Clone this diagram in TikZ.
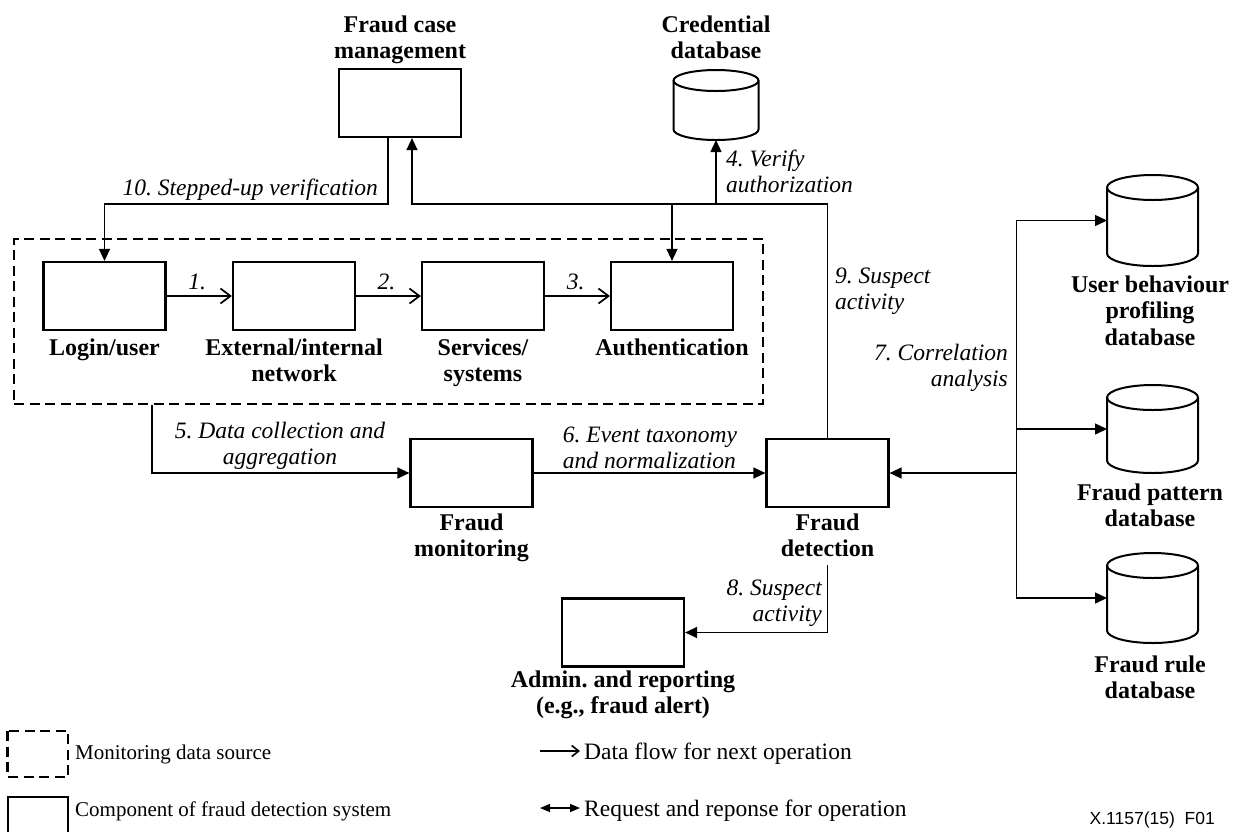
\documentclass[tikz,border=0pt]{standalone}
\usepackage{fontspec}
\setmainfont{Liberation Serif}
\newfontfamily\tagfont{Liberation Sans}
\usetikzlibrary{arrows.meta,calc}
\frenchspacing

% stacked lines whose baseline is that of the first line
\newcommand{\rows}[2]{\begin{tabular}[t]{@{}#1@{}}#2\end{tabular}}

% database cylinder: name, centre x, centre y, width, height, cap half-height
\newcommand{\dbcyl}[6]{%
  \node[minimum width=#4pt, minimum height=#5pt, inner sep=0pt, outer sep=0pt] (#1) at (#2,#3) {};
  \draw[dbline] ($(#1.north west)+(0,#6)$) -- ($(#1.south west)+(0,-#6)$)
     arc[start angle=180, end angle=0, x radius=#4/2, y radius=#6]
     -- ($(#1.north east)+(0,#6)$);
  \draw[dbline] ($(#1.north)+(0,#6)$) ellipse[x radius=#4/2, y radius=#6];
}

\begin{document}
\begin{tikzpicture}[x=1pt, y=-1pt,
  comp/.style={draw, line width=2.2pt, minimum width=122pt, minimum height=68pt, inner sep=0pt},
  srcbox/.style={draw, line width=2.2pt, dash pattern=on 10pt off 5.5pt, inner sep=0pt},
  dbline/.style={line width=2pt},
  wire/.style={line width=1.4pt},
  flow/.style={wire, -{Triangle[length=12pt, width=11pt]}},
  dflow/.style={wire, {Triangle[length=12pt, width=11pt]}-{Triangle[length=12pt, width=11pt]}},
  chain/.style={wire, -{Straight Barb[length=10pt, width=15pt, line width=1.7pt]}},
  title/.style={font=\bfseries\fontsize{24}{26.5}\selectfont, inner sep=0pt, anchor=base},
  note/.style={font=\itshape\fontsize{23.5}{26.5}\selectfont, inner sep=0pt},
  legend/.style={font=\fontsize{21}{25}\selectfont, inner sep=0pt, anchor=base west},
  legendr/.style={font=\fontsize{23.5}{26}\selectfont, inner sep=0pt, anchor=base west},
]
\useasboundingbox (0,0) rectangle (1239,831);

% ---------- monitoring data source ----------
\node[srcbox, minimum width=749pt, minimum height=165pt] (src) at (388.5,321.5) {};

\node[comp] (login) at (104.5,296) {};
\node[comp] (net)   at (294,296) {};
\node[comp] (svc)   at (483,296) {};
\node[comp] (auth)  at (672,296) {};

\node[title] (tlogin) at (104.5,355) {Login/user};
\node[title] (tnet)   at (294,355) {\rows{c}{External/internal\\network}};
\node[title] (tsvc)   at (483,355) {\rows{c}{Services/\\systems}};
\node[title] (tauth)  at (672,355) {Authentication};

\draw[chain] (login) -- (net) node[note, pos=0.47, anchor=base, yshift=7pt] (n1) {1.};
\draw[chain] (net) -- (svc) node[note, pos=0.47, anchor=base, yshift=7pt] (n2) {2.};
\draw[chain] (svc) -- (auth) node[note, pos=0.47, anchor=base, yshift=7pt] (n3) {3.};

% ---------- top: case management and credentials ----------
\node[comp] (fcm) at (400,103) {};
\node[title] (tfcm) at (400,32) {\rows{c}{Fraud case\\management}};

\dbcyl{cred}{716}{105}{85}{70}{10.5}
\node[title] (tcred) at (716,32) {\rows{c}{Credential\\database}};

\coordinate (bus) at (0,204);

% 10. stepped-up verification
\draw[flow] ([xshift=-12pt]fcm.south) -- ([xshift=-12pt]fcm.south |- bus) -| (login.north);
\node[note, anchor=base east] (n10) at (378,195) {10. Stepped-up verification};

% 4. verify authorization
\draw[dflow] (auth.north) -- (auth.north |- bus) -| (cred.south);
\node[note, anchor=base west] (n4) at (726,166) {\rows{l}{4. Verify\\authorization}};

% ---------- monitoring and detection ----------
\node[comp] (mon) at (471.5,473) {};
\node[title] (tmon) at (471.5,530) {\rows{c}{Fraud\\monitoring}};

\node[comp] (det) at (827.5,473) {};
\node[title] (tdet) at (827.5,530) {\rows{c}{Fraud\\detection}};

% 5. data collection
\draw[flow] ([xshift=139pt]src.south west) |- (mon.west);
\node[note, anchor=base] (n5) at (280,438) {\rows{c}{5. Data collection and\\aggregation}};

% 6. event taxonomy
\draw[flow] (mon.east) -- (det.west);
\node[note, anchor=base] (n6) at (650,442) {\rows{l}{6. Event taxonomy\\and normalization}};

% 9. suspect activity to case management
\draw[flow] (det.north) -- (det.north |- bus) -| ([xshift=12pt]fcm.south);
\node[note, anchor=base west] (n9) at (835,283) {\rows{l}{9. Suspect\\activity}};

% ---------- databases ----------
\dbcyl{ubp}{1152.5}{220.5}{91}{91}{12.5}
\node[title] (tubp) at (1150,292) {\rows{c}{User behaviour\\profiling\\database}};

\dbcyl{fpd}{1152.5}{429}{91}{88}{12.5}
\node[title] (tfpd) at (1150,500) {\rows{c}{Fraud pattern\\database}};

\dbcyl{frd}{1152.5}{598}{91}{90}{12.5}
\node[title] (tfrd) at (1150,672) {\rows{c}{Fraud rule\\database}};

\coordinate (hub) at (1016.5,473);
\draw[flow] (hub) -- (det.east);
\draw[flow] (hub) |- (ubp.west);
\draw[flow] (hub) |- (fpd.west);
\draw[flow] (hub) |- (frd.west);
\node[note, anchor=base east] (n7) at (1008,360) {\rows{r}{7. Correlation\\analysis}};

% ---------- admin and reporting ----------
\node[comp] (adm) at (623,632.5) {};
\node[title] (tadm) at (623,687) {\rows{c}{Admin. and reporting\\(e.g., fraud alert)}};

\coordinate (s8) at (827.5,565);
\draw[flow] (s8) |- (adm.east);
\node[note, anchor=base east] (n8) at (822,595) {\rows{r}{8. Suspect\\activity}};

% ---------- legend ----------
\draw[line width=2.2pt, dash pattern=on 10pt off 5.5pt] (7.5,731) rectangle (68,777);
\node[legend] (lg1) at (75,759) {Monitoring data source};
\draw[line width=2.2pt] (8,834) -- (8,797) -- (68,797) -- (68,834);
\node[legend] (lg2) at (75,816) {Component of fraud detection system};

\coordinate (la1) at (540,751);
\coordinate (lb1) at (580,751);
\draw[wire, -{Straight Barb[length=7pt, width=11pt, line width=1.6pt]}] (la1) -- (lb1);
\node[legendr] (lg3) at (584,759) {Data flow for next operation};

\coordinate (la2) at (540,808);
\coordinate (lb2) at (580,808);
\draw[wire, {Triangle[length=10pt, width=8pt]}-{Triangle[length=10pt, width=8pt]}] (la2) -- (lb2);
\node[legendr] (lg4) at (584,816) {Request and reponse for operation};

\node[font=\tagfont\fontsize{17.5}{19}\selectfont, inner sep=0pt, anchor=base east] (tag) at (1215,824) {X.1157(15)\ \ F01};

\end{tikzpicture}
\end{document}
